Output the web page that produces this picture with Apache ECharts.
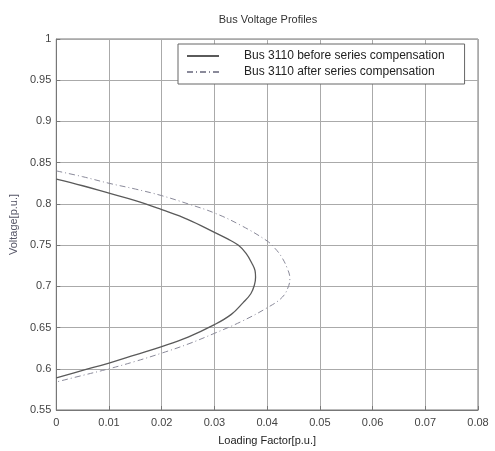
<!DOCTYPE html>
<html>
<head>
<meta charset="utf-8">
<script src="https://cdn.jsdelivr.net/npm/echarts@6/dist/echarts.min.js"></script>
<style>
  html, body { margin: 0; padding: 0; background: #fff; }
  #main { width: 495px; height: 451px; }
</style>
</head>
<body>
<div id="main"></div>
<script>
// loading factor / voltage (upper branch, nose, lower branch)
const loadBefore = [0, 0.005, 0.01, 0.015, 0.02, 0.025, 0.03, 0.0325, 0.0345, 0.036, 0.0371, 0.0377, 0.0378,
                    0.0376, 0.0369, 0.0354, 0.0332, 0.03, 0.025, 0.02, 0.015, 0.01, 0.005, 0];
const voltBefore = [0.830, 0.822, 0.813, 0.804, 0.793, 0.781, 0.7655, 0.7575, 0.750, 0.740, 0.728, 0.719, 0.711,
                    0.702, 0.691, 0.680, 0.666, 0.6535, 0.6385, 0.627, 0.617, 0.607, 0.598, 0.589];

const loadAfter = [0, 0.005, 0.01, 0.015, 0.02, 0.025, 0.03, 0.035, 0.04, 0.0415, 0.0428, 0.0438, 0.0443,
                   0.0441, 0.0429, 0.04, 0.035, 0.03, 0.025, 0.02, 0.015, 0.01, 0.005, 0];
const voltAfter = [0.840, 0.833, 0.825, 0.818, 0.810, 0.800, 0.789, 0.774, 0.755, 0.746, 0.735, 0.722, 0.710,
                   0.701, 0.687, 0.674, 0.657, 0.643, 0.630, 0.619, 0.609, 0.600, 0.592, 0.584];

const seriesNames = ['Bus 3110 before series compensation', 'Bus 3110 after series compensation'];

function pairs(xs, ys) {
  return xs.map((x, i) => [x, ys[i]]);
}

const chart = echarts.init(document.getElementById('main'));
const option = {
  backgroundColor: '#fff',
  animation: false,
  title: {
    text: 'Bus Voltage Profiles',
    left: 263,
    textAlign: 'center',
    top: 9,
    textStyle: { fontFamily: 'Liberation Sans', fontSize: 11, fontWeight: 'normal', color: '#333' }
  },
  grid: {
    left: 51, right: 17, top: 39, bottom: 40,
    show: true, borderColor: '#777', borderWidth: 1
  },
  legend: {
    orient: 'vertical',
    left: 178, top: 44,
    padding: [6, 20, 6, 8],
    itemGap: 4,
    itemWidth: 32,
    itemHeight: 10,
    backgroundColor: '#fff',
    borderColor: '#666',
    borderWidth: 1,
    itemStyle: { opacity: 0 },
    textStyle: { fontFamily: 'Liberation Sans', fontSize: 12, color: '#222', padding: [0, 0, 0, 20] },
    data: seriesNames
  },
  xAxis: {
    type: 'value',
    min: 0, max: 0.08, interval: 0.01,
    name: 'Loading Factor[p.u.]',
    nameLocation: 'middle',
    nameGap: 25,
    nameTextStyle: { fontFamily: 'Liberation Sans', fontSize: 11, color: '#222' },
    axisLine: { lineStyle: { color: '#777' } },
    axisTick: { inside: true, length: 4, lineStyle: { color: '#777' } },
    axisLabel: { fontFamily: 'Liberation Sans', fontSize: 11, color: '#444', margin: 7 },
    splitLine: { show: true, lineStyle: { color: '#aaa', width: 1 } }
  },
  yAxis: {
    type: 'value',
    min: 0.55, max: 1, interval: 0.05,
    name: 'Voltage[p.u.]',
    nameLocation: 'middle',
    nameGap: 33,
    nameTextStyle: { fontFamily: 'Liberation Sans', fontSize: 11, color: '#556' },
    axisLine: { lineStyle: { color: '#777' } },
    axisTick: { inside: true, length: 4, lineStyle: { color: '#777' } },
    axisLabel: {
      fontFamily: 'Liberation Sans', fontSize: 11, color: '#444', margin: 5,
      formatter: v => String(+v.toFixed(2))
    },
    splitLine: { show: true, lineStyle: { color: '#aaa', width: 1 } }
  },
  series: [
    {
      name: seriesNames[0],
      type: 'line',
      smooth: 0.4,
      symbol: 'none',
      data: pairs(loadBefore, voltBefore),
      lineStyle: { color: '#5a5a5a', width: 1.3, type: 'solid' },
      itemStyle: { color: '#5a5a5a' }
    },
    {
      name: seriesNames[1],
      type: 'line',
      smooth: 0.4,
      symbol: 'none',
      data: pairs(loadAfter, voltAfter),
      lineStyle: { color: '#8a8a9a', width: 1, type: [6, 3, 1, 3] },
      itemStyle: { color: '#8a8a9a' }
    }
  ]
};
chart.setOption(option);
</script>
</body>
</html>
